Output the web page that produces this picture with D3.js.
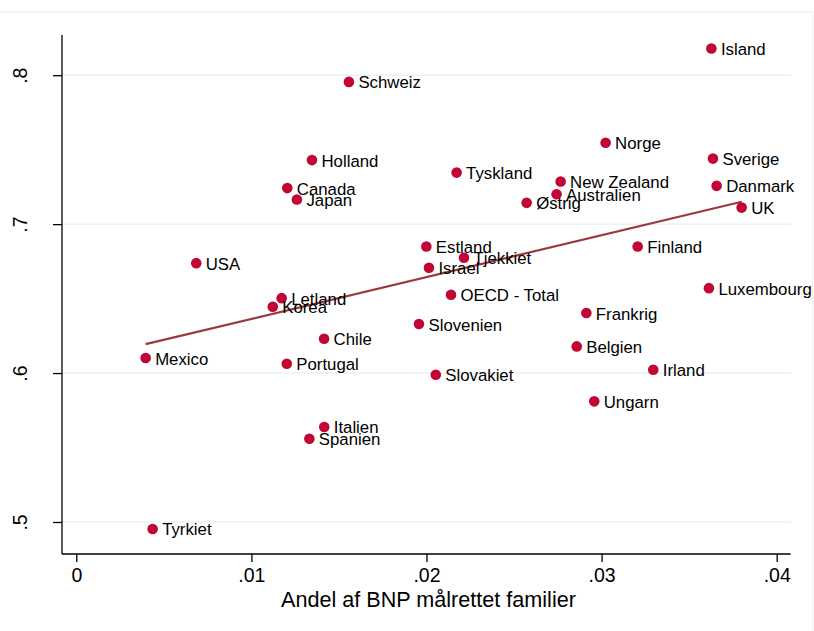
<!DOCTYPE html>
<html lang="da">
<head>
<meta charset="utf-8">
<title>Andel af BNP målrettet familier</title>
<script src="https://cdn.jsdelivr.net/npm/d3@7"></script>
<style>
  body { margin: 0; background: #fff; }
  text { font-family: Arial, "Liberation Sans", sans-serif; fill: #000; }
</style>
</head>
<body>
<script>
// data
var countries = ["Island", "Schweiz", "Holland", "Canada", "Japan", "USA", "Letland", "Korea",
  "Mexico", "Chile", "Portugal", "Italien", "Spanien", "Tyrkiet", "Tyskland", "Norge", "Sverige",
  "New Zealand", "Australien", "Østrig", "Danmark", "UK", "Estland", "Tjekkiet", "Israel",
  "Finland", "OECD - Total", "Luxembourg", "Frankrig", "Slovenien", "Belgien", "Irland",
  "Slovakiet", "Ungarn"];
var shareGDP = [0.03627, 0.01557, 0.01346, 0.01205, 0.01260, 0.00685, 0.01173, 0.01122,
  0.00396, 0.01415, 0.01202, 0.01416, 0.01331, 0.00436, 0.02172, 0.03023, 0.03636,
  0.02766, 0.02743, 0.02572, 0.03657, 0.03800, 0.01999, 0.02214, 0.02014,
  0.03206, 0.02140, 0.03613, 0.02913, 0.01957, 0.02858, 0.03295,
  0.02053, 0.02958];
var yValue = [0.8179, 0.7955, 0.7430, 0.7242, 0.7165, 0.6738, 0.6503, 0.6445,
  0.6101, 0.6230, 0.6062, 0.5638, 0.5559, 0.4953, 0.7346, 0.7546, 0.7440,
  0.7286, 0.7201, 0.7143, 0.7257, 0.7111, 0.6850, 0.6774, 0.6707,
  0.6850, 0.6526, 0.6570, 0.6403, 0.6329, 0.6179, 0.6022,
  0.5989, 0.5810];
var xTicks = [0, 0.01, 0.02, 0.03, 0.04];
var xTickLabels = ["0", ".01", ".02", ".03", ".04"];
var yTicks = [0.5, 0.6, 0.7, 0.8];
var yTickLabels = [".5", ".6", ".7", ".8"];

var width = 814, height = 631;
var plot = {left: 62, right: 790.7, top: 35, bottom: 554};

var svg = d3.select("body").append("svg")
  .attr("width", width)
  .attr("height", height);

// faint outer frame
svg.append("rect")
  .attr("x", -2).attr("y", 12)
  .attr("width", 814.7).attr("height", 640)
  .attr("fill", "none")
  .attr("stroke", "#eeeeee")
  .attr("stroke-width", 1);

var xScale = d3.scaleLinear()
  .domain([-0.000817, 0.0408])
  .range([plot.left, plot.right]);
var yScale = d3.scaleLinear()
  .domain([0.4785, 0.827])
  .range([plot.bottom, plot.top]);

// grid lines
svg.append("g").selectAll("line")
  .data(yTicks)
  .enter().append("line")
  .attr("x1", plot.left).attr("x2", plot.right)
  .attr("y1", function(d) { return yScale(d); })
  .attr("y2", function(d) { return yScale(d); })
  .attr("stroke", "#eaf1f5")
  .attr("stroke-width", 1.5);

// axes
var xAxis = d3.axisBottom(xScale)
  .tickValues(xTicks)
  .tickFormat(function(d, i) { return xTickLabels[i]; })
  .tickSizeInner(8).tickSizeOuter(0).tickPadding(6);
var gx = svg.append("g")
  .attr("transform", "translate(0," + plot.bottom + ")")
  .call(xAxis);
gx.select(".domain").attr("d", "M" + plot.left + ",0H" + plot.right)
  .attr("stroke", "#000").attr("stroke-width", 1.3);
gx.selectAll(".tick line").attr("stroke", "#000").attr("stroke-width", 1.3);
gx.selectAll(".tick text")
  .attr("font-size", 19.5)
  .attr("font-family", "Arial, 'Liberation Sans', sans-serif")
  .attr("fill", "#000");

var yAxis = d3.axisLeft(yScale)
  .tickValues(yTicks)
  .tickFormat(function(d, i) { return yTickLabels[i]; })
  .tickSizeInner(9).tickSizeOuter(0).tickPadding(0);
var gy = svg.append("g")
  .attr("transform", "translate(" + plot.left + ",0)")
  .call(yAxis);
gy.select(".domain").attr("d", "M0," + plot.top + "V" + plot.bottom)
  .attr("stroke", "#000").attr("stroke-width", 1.3);
gy.selectAll(".tick line").attr("stroke", "#000").attr("stroke-width", 1.3);
gy.selectAll(".tick text")
  .attr("font-size", 19.5)
  .attr("font-family", "Arial, 'Liberation Sans', sans-serif")
  .attr("fill", "#000")
  .attr("text-anchor", "middle")
  .attr("dy", 0)
  .attr("x", 0)
  .attr("transform", "translate(-35,0) rotate(-90)");

// axis title
svg.append("text")
  .attr("x", 428.5)
  .attr("y", 607)
  .attr("text-anchor", "middle")
  .attr("font-size", 21.6)
  .text("Andel af BNP målrettet familier");

// fitted values (OLS of y on x)
var n = shareGDP.length;
var mx = d3.mean(shareGDP), my = d3.mean(yValue);
var sxy = 0, sxx = 0;
for (var i = 0; i < n; i++) {
  sxy += (shareGDP[i] - mx) * (yValue[i] - my);
  sxx += (shareGDP[i] - mx) * (shareGDP[i] - mx);
}
var slope = sxy / sxx, intercept = my - slope * mx;
var fitX = d3.extent(shareGDP);
var line = d3.line()
  .x(function(d) { return xScale(d); })
  .y(function(d) { return yScale(intercept + slope * d); });
svg.append("path")
  .datum(fitX)
  .attr("d", line)
  .attr("fill", "none")
  .attr("stroke", "#9a3a3d")
  .attr("stroke-width", 2.2);

// points
svg.append("g").selectAll("circle")
  .data(countries)
  .enter().append("circle")
  .attr("cx", function(d, i) { return xScale(shareGDP[i]); })
  .attr("cy", function(d, i) { return yScale(yValue[i]); })
  .attr("r", 5.3)
  .attr("fill", "#c10534");

// labels
svg.append("g").selectAll("text")
  .data(countries)
  .enter().append("text")
  .attr("x", function(d, i) { return xScale(shareGDP[i]) + 9.5; })
  .attr("y", function(d, i) { return yScale(yValue[i]) + 6.5; })
  .attr("font-size", 16.8)
  .text(function(d) { return d; });
</script>
</body>
</html>
